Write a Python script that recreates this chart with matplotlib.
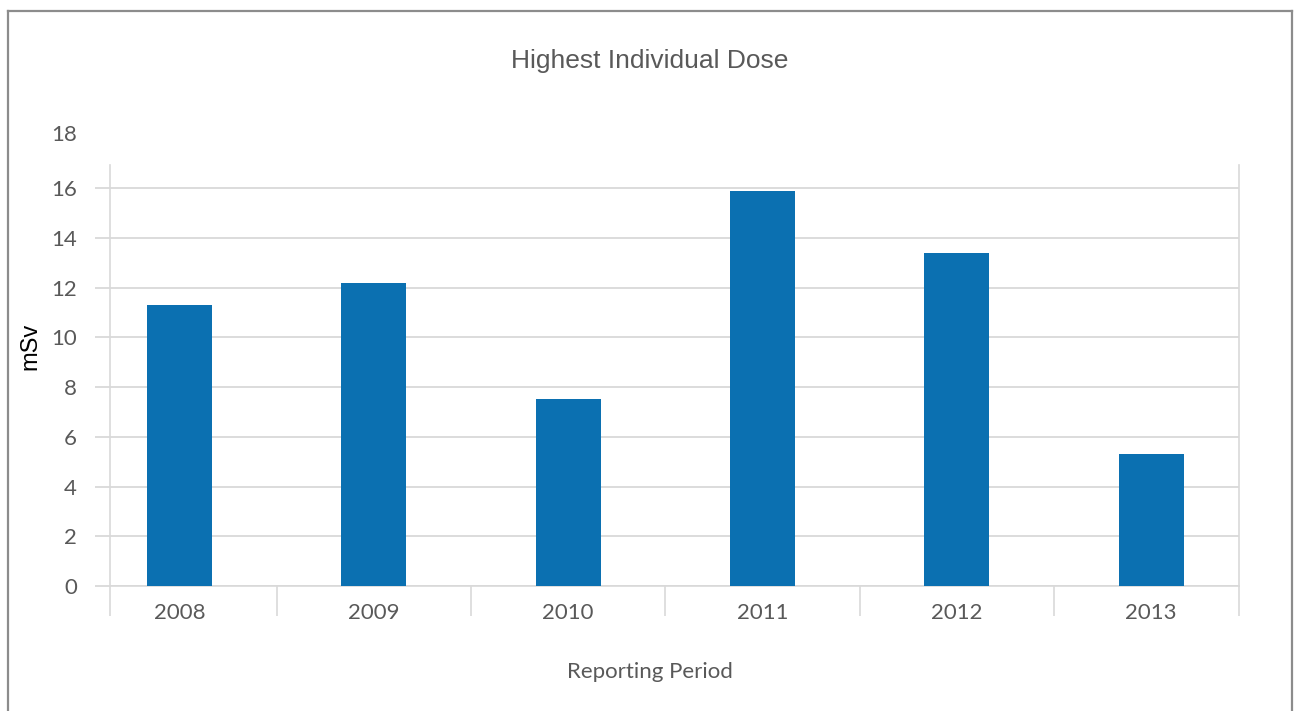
import matplotlib
matplotlib.use("Agg")
import matplotlib.pyplot as plt
from matplotlib.lines import Line2D
import numpy as np

years = ["2008", "2009", "2010", "2011", "2012", "2013"]
dose_msv = [11.3, 12.2, 7.5, 15.9, 13.4, 5.3]
y_ticks = [0, 2, 4, 6, 8, 10, 12, 14, 16]

W, H = 1297, 711
PX = 72 / 100  # points per pixel at 100 dpi
fig = plt.figure(figsize=(W / 100, H / 100), dpi=100)
ax = fig.add_axes([110 / W, 1 - 586 / H, (1239 - 110) / W, (586 - 165) / H])

BAR = "#0b70b1"
GRID = "#d9d9d9"
TXT = "#595959"
tick_font = "Lato"
TICK_FS = 16

x = np.arange(len(years))
ax.bar(x, dose_msv, width=0.335, color=BAR, zorder=3)

x_lo, x_hi = -0.358, len(years) - 0.548
ax.set_xlim(x_lo, x_hi)
ax.set_ylim(0, 16.93)

# horizontal gridlines, with ticks extending left of the plot
ax.set_yticks(y_ticks)
ax.set_yticklabels([str(t) for t in y_ticks], fontsize=TICK_FS, color=TXT, family=tick_font)
ax.yaxis.grid(True, color=GRID, linewidth=1.3, zorder=0)
ax.tick_params(axis="y", length=15 * PX, width=1.3, color=GRID, pad=18 * PX)

# 18 label sits above the plotted range
ax.annotate("18", xy=(0, 18), xycoords=ax.get_yaxis_transform(),
            xytext=(-33 * PX, 3 * PX), textcoords="offset points",
            ha="right", va="center", fontsize=TICK_FS, color=TXT,
            family=tick_font, annotation_clip=False)

# category labels between separator ticks
ax.set_xticks(x)
ax.set_xticklabels(years, fontsize=TICK_FS, color=TXT, family=tick_font)
ax.tick_params(axis="x", which="major", length=0, pad=17 * PX)
separators = [x_lo] + list(np.arange(1, len(years)) - 0.5) + [x_hi]
ax.set_xticks(separators, minor=True)
ax.tick_params(axis="x", which="minor", length=30 * PX, width=1.2, color=GRID)

for side in ["left", "right", "bottom"]:
    ax.spines[side].set_color(GRID)
    ax.spines[side].set_linewidth(1.2)
ax.spines["top"].set_visible(False)

ax.set_xlabel("Reporting Period", fontsize=16, color=TXT, family=tick_font)
ax.xaxis.set_label_coords((650 - 110) / (1239 - 110), (586 - 662) / (586 - 165))
fig.text(30 / W, 1 - 346 / H, "mSv", rotation=90, fontsize=17, color="black",
         family="Liberation Sans", ha="center", va="center")
fig.text(650 / W, 1 - 61 / H, "Highest Individual Dose", fontsize=19, color=TXT,
         family="Liberation Sans", ha="center", va="center")

# outer frame (open at the bottom)
frame_c = "#8c8c8c"
fig.add_artist(Line2D([8 / W, 8 / W], [0, 1 - 11 / H], color=frame_c, lw=1.6))
fig.add_artist(Line2D([8 / W, 1292 / W], [1 - 11 / H, 1 - 11 / H], color=frame_c, lw=1.6))
fig.add_artist(Line2D([1292 / W, 1292 / W], [0, 1 - 11 / H], color=frame_c, lw=1.6))

fig.savefig("out.png", dpi=100, facecolor="white")
